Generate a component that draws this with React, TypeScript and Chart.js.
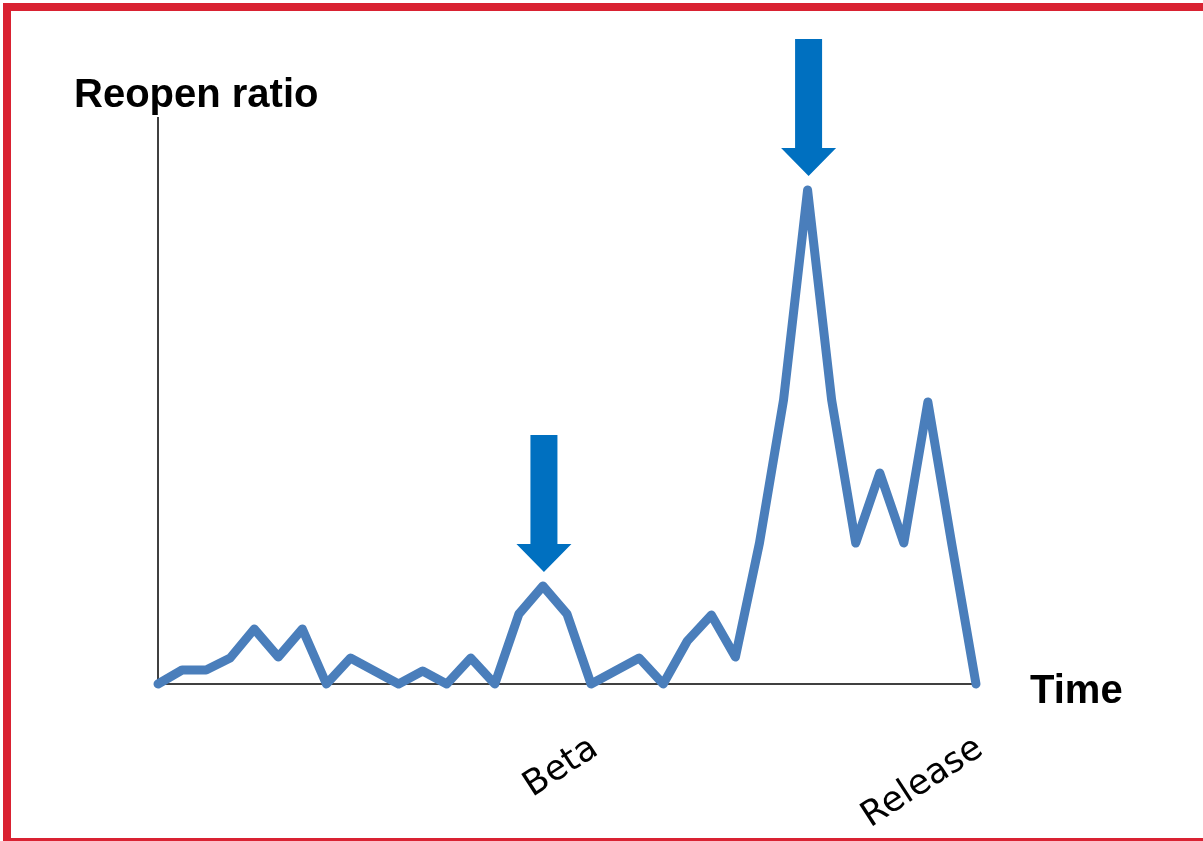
import React, { useEffect, useRef } from "react";
import { Chart, registerables } from "chart.js";

Chart.register(...registerables);

// ---- data ----
const timePoints = [
  "t1", "t2", "t3", "t4", "t5", "t6", "t7", "t8", "t9", "t10",
  "t11", "t12", "t13", "t14", "t15", "t16", "t17", "t18", "t19", "t20",
  "t21", "t22", "t23", "t24", "t25", "t26", "t27", "t28", "t29", "t30",
  "t31", "t32", "t33", "t34", "t35",
];
const reopenRatio = [
  0, 1.4, 1.4, 2.6, 5.5, 2.7, 5.5, 0, 2.6, 1.3,
  0, 1.3, 0, 2.6, 0, 7.0, 9.8, 7.0, 0, 1.3,
  2.6, 0, 4.3, 6.9, 2.7, 14.1, 28.4, 49.4, 28.4, 14.1,
  21.1, 14.1, 28.2, 13.9, 0,
];
const milestoneNames = ["Beta", "Release"];
const milestoneIndex = [17, 33];
const arrowIndex = [16, 27];
const yTitle = "Reopen ratio";
const xTitle = "Time";
const yMax = 56.6;

const overlayPlugin = {
  id: "overlay",
  afterDraw(chart: any) {
    const { ctx, chartArea, scales } = chart;
    const xs = scales.x;
    const ys = scales.y;
    ctx.save();
    ctx.fillStyle = "#000000";
    ctx.font = 'bold 40px "Liberation Sans", Arial, sans-serif';
    ctx.textBaseline = "alphabetic";
    ctx.textAlign = "left";
    ctx.fillText(yTitle, chartArea.left - 84, chartArea.top - 11);
    ctx.fillText(xTitle, chartArea.right + 54, ys.getPixelForValue(0) + 19);

    ctx.fillStyle = "#0070C0";
    arrowIndex.forEach((i) => {
      const cx = xs.getPixelForValue(i) + 1;
      const tip = ys.getPixelForValue(reopenRatio[i]) - 14;
      const shaft = 13.5;
      const head = 27.5;
      const headLen = 28;
      const total = 137;
      ctx.beginPath();
      ctx.moveTo(cx - shaft, tip - total);
      ctx.lineTo(cx + shaft, tip - total);
      ctx.lineTo(cx + shaft, tip - headLen);
      ctx.lineTo(cx + head, tip - headLen);
      ctx.lineTo(cx, tip);
      ctx.lineTo(cx - head, tip - headLen);
      ctx.lineTo(cx - shaft, tip - headLen);
      ctx.closePath();
      ctx.fill();
    });
    ctx.restore();
  },
};

export default function App() {
  const ref = useRef<HTMLCanvasElement | null>(null);

  useEffect(() => {
    const canvas = ref.current;
    if (!canvas) return;
    const chart = new Chart(canvas, {
      type: "line",
      data: {
        labels: timePoints,
        datasets: [
          {
            data: reopenRatio,
            borderColor: "#4A7EBB",
            borderWidth: 9,
            pointRadius: 0,
            tension: 0,
            fill: false,
            borderJoinStyle: "round",
            borderCapStyle: "round",
            clip: false,
          } as any,
        ],
      },
      options: {
        responsive: false,
        animation: false,
        devicePixelRatio: 1,
        layout: { padding: { left: 158, top: 118, right: 227, bottom: 0 } },
        plugins: {
          legend: { display: false },
          tooltip: { enabled: false },
          title: { display: false },
        },
        scales: {
          x: {
            type: "category",
            offset: false,
            grid: { display: false, drawTicks: false },
            border: { display: true, color: "#404040", width: 2 },
            ticks: {
              autoSkip: false,
              minRotation: 33,
              maxRotation: 33,
              padding: 44,
              labelOffset: 28,
              color: "#000000",
              font: { family: '"DejaVu Sans", sans-serif', size: 35 },
              callback: (_v: any, idx: number) => {
                const k = milestoneIndex.indexOf(idx);
                return k >= 0 ? milestoneNames[k] : "";
              },
            },
            afterFit: (s: any) => {
              s.height = 157;
            },
          } as any,
          y: {
            min: 0,
            max: yMax,
            grid: { display: false, drawTicks: false },
            border: { display: true, color: "#404040", width: 2 },
            ticks: { display: false },
            afterFit: (s: any) => {
              s.width = 0;
            },
          },
        },
      },
      plugins: [overlayPlugin],
    });
    return () => chart.destroy();
  }, []);

  return (
    <div
      style={{
        position: "fixed",
        left: 0,
        top: 0,
        width: 1203,
        height: 841,
        overflow: "hidden",
        background: "#ffffff",
      }}
    >
      <canvas
        ref={ref}
        width={1203}
        height={841}
        style={{ position: "absolute", left: 0, top: 0, width: 1203, height: 841 }}
      />
      <div
        style={{
          position: "absolute",
          left: 3,
          top: 3,
          width: 1220,
          height: 843,
          boxSizing: "border-box",
          border: "8px solid #D92232",
          pointerEvents: "none",
        }}
      />
    </div>
  );
}
